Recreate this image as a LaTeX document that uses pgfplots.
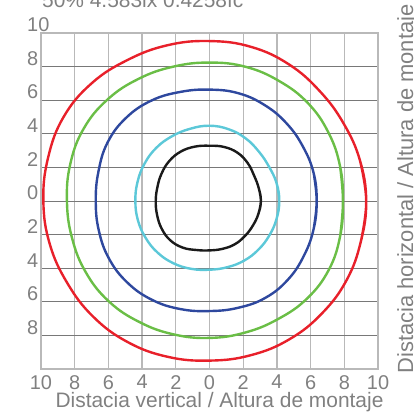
\documentclass[border=0pt]{standalone}
\usepackage{pgfplots}
\pgfplotsset{compat=1.18}
\usepackage{fontspec}
\setmainfont{Liberation Sans}
\definecolor{txtgray}{RGB}{128,128,128}
\definecolor{vgrid}{RGB}{185,185,185}
\definecolor{hgrid}{RGB}{120,120,120}
\definecolor{cRed}{RGB}{232,32,42}
\definecolor{cGreen}{RGB}{106,190,70}
\definecolor{cBlue}{RGB}{46,72,158}
\definecolor{cCyan}{RGB}{92,200,216}
\definecolor{cBlack}{RGB}{26,26,26}
\begin{document}
\begin{tikzpicture}
\begin{axis}[
  at={(0,0)}, anchor=south west,
  scale only axis, width=337bp, height=336bp,
  xmin=-10, xmax=10, ymin=-10, ymax=10,
  xtick={-10,-8,...,10},
  xticklabels={10,8,6,4,2,0,2,4,6,8,10},
  ytick={-8,-6,...,10},
  yticklabels={8,6,4,2,0,2,4,6,8,10},
  /pgf/number format/assume math mode=true,
  major tick length=0pt,
  xmajorgrids, ymajorgrids,
  x grid style={color=vgrid, line width=1.3bp},
  y grid style={color=hgrid, line width=0.9bp},
  axis line style={color=vgrid, line width=1.2bp},
  tick label style={color=txtgray, font=\fontsize{20}{22}\selectfont},
  xticklabel style={inner sep=0pt, anchor=north, yshift=-6bp},
  yticklabel style={inner sep=0pt, anchor=south west, xshift=-14bp, yshift=1bp},
  clip=false,
  every axis plot/.append style={line width=2.4bp, smooth, tension=0.7},
]
% red
\addplot[cRed] coordinates {
(8.983,-2.407) (9.30,0) (8.935,2.394) (7.967,4.6) (6.541,6.541) (4.7,8.141) (2.459,9.176)
(0,9.52) (-2.485,9.273) (-4.85,8.4) (-7.0,7.0) (-8.66,5.0) (-9.582,2.567)
(-9.86,0) (-9.485,-2.542) (-8.444,-4.875) (-6.894,-6.894) (-4.85,-8.4) (-2.485,-9.273)
(0,-9.5) (2.459,-9.176) (4.75,-8.227) (6.682,-6.682) (8.141,-4.7) (8.983,-2.407)
(9.30,0) (8.935,2.394)};
% green
\addplot[cGreen] coordinates {
(7.756,-2.078) (7.92,0) (7.747,2.076) (7.058,4.075) (5.834,5.834) (4.125,7.145) (2.140,7.988)
(0,8.24) (-2.143,7.998) (-4.2,7.275) (-6.046,6.046) (-7.465,4.31) (-8.259,2.213)
(-8.46,0) (-8.162,-2.187) (-7.344,-4.24) (-5.975,-5.975) (-4.16,-7.205) (-2.127,-7.940)
(0,-8.15) (2.099,-7.834) (4.06,-7.032) (5.798,-5.798) (7.084,-4.09) (7.756,-2.078)
(7.92,0) (7.747,2.076)};
% blue
\addplot[cBlue] coordinates {
(6.182,-1.656) (6.36,0) (6.182,1.656) (5.56,3.21) (4.596,4.596) (3.29,5.698) (1.718,6.414)
(0,6.63) (-1.739,6.491) (-3.45,5.976) (-4.95,4.95) (-6.045,3.49) (-6.588,1.765)
(-6.75,0) (-6.568,-1.76) (-5.958,-3.44) (-4.865,-4.865) (-3.4,-5.889) (-1.724,-6.433)
(0,-6.55) (1.703,-6.356) (3.325,-5.759) (4.667,-4.667) (5.612,-3.24) (6.182,-1.656)
(6.36,0) (6.182,1.656)};
% cyan
\addplot[cCyan] coordinates {
(3.98,-1.066) (4.14,0) (3.98,1.066) (3.533,2.04) (2.934,2.934) (2.15,3.724) (1.144,4.269)
(0,4.48) (-1.152,4.298) (-2.225,3.854) (-3.161,3.161) (-3.854,2.225) (-4.269,1.144)
(-4.4,0) (-4.25,-1.139) (-3.793,-2.19) (-3.076,-3.076) (-2.14,-3.707) (-1.082,-4.038)
(0,-4.09) (1.056,-3.941) (2.05,-3.551) (2.899,-2.899) (3.551,-2.05) (3.98,-1.066)
(4.14,0) (3.98,1.066)};
% black
\addplot[cBlack] coordinates {
(2.898,-0.776) (3.05,0) (2.917,0.782) (2.641,1.525) (2.263,2.263) (1.66,2.875) (0.862,3.217)
(0,3.29) (-0.867,3.236) (-1.7,2.944) (-2.383,2.383) (-2.841,1.64) (-3.091,0.828)
(-3.19,0) (-3.11,-0.833) (-2.841,-1.64) (-2.333,-2.333) (-1.6,-2.771) (-0.782,-2.917)
(0,-2.94) (0.764,-2.849) (1.49,-2.581) (2.093,-2.093) (2.563,-1.48) (2.898,-0.776)
(3.05,0) (2.917,0.782)};
\node[anchor=base west, inner sep=0pt, text=txtgray, font=\fontsize{21}{23}\selectfont]
  at ([xshift=1bp, yshift=25bp]rel axis cs:0,1) {50\% 4.583lx 0.4258fc};
\node[anchor=base, inner sep=0pt, text=txtgray, font=\fontsize{21}{23}\selectfont]
  at ([xshift=10bp, yshift=-38bp]rel axis cs:0.5,0) {Distacia vertical / Altura de montaje};
\node[anchor=base, rotate=90, inner sep=0pt, text=txtgray, font=\fontsize{22}{24}\selectfont]
  at ([xshift=35bp, yshift=12bp]rel axis cs:1,0.5) {Distacia horizontal / Altura de montaje};
\end{axis}
\pgfresetboundingbox
\path[use as bounding box] (-41bp,-46bp) rectangle (373bp,369bp);
\end{tikzpicture}
\end{document}
